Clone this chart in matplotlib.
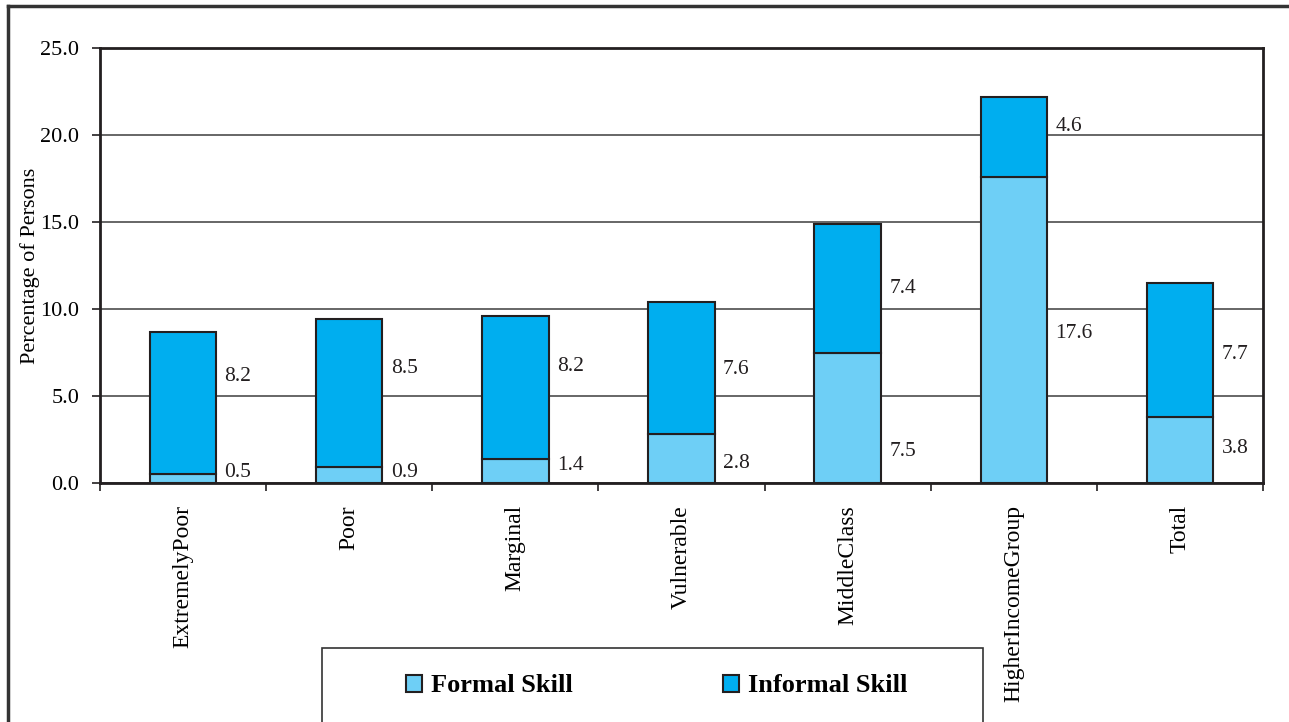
import matplotlib.pyplot as plt
import numpy as np
from matplotlib.lines import Line2D
from matplotlib.patches import Rectangle

plt.rcParams["font.family"] = ["Liberation Serif", "DejaVu Serif"]

categories = ["ExtremelyPoor", "Poor", "Marginal", "Vulnerable",
              "MiddleClass", "HigherIncomeGroup", "Total"]
formal = [0.5, 0.9, 1.4, 2.8, 7.5, 17.6, 3.8]
informal = [8.2, 8.5, 8.2, 7.6, 7.4, 4.6, 7.7]

# where the value labels sit (data units), as in the source chart
formal_label_y = [0.6, 0.6, 1.0, 1.1, 1.8, 8.6, 2.0]
informal_label_y = [6.1, 6.6, 6.7, 6.5, 11.2, 20.5, 7.4]

C_FORMAL = "#6ECFF6"
C_INFORMAL = "#00AEEF"
EDGE = "#231F20"

W, H = 1289, 722
fig = plt.figure(figsize=(W / 100, H / 100), dpi=100)
ax = fig.add_axes([100 / W, 1 - 483 / H, 1163 / W, 435 / H])

x = np.arange(len(categories))
bw = 0.4
b1 = ax.bar(x, formal, bw, color=C_FORMAL, edgecolor=EDGE, linewidth=1.5,
            label="Formal Skill", zorder=3)
b2 = ax.bar(x, informal, bw, bottom=formal, color=C_INFORMAL, edgecolor=EDGE,
            linewidth=1.5, label="Informal Skill", zorder=3)

for i in range(len(categories)):
    ax.text(x[i] + bw / 2 + 0.05, formal_label_y[i], f"{formal[i]:.1f}",
            va="center", ha="left", fontsize=15.5, color="#231F20")
    ax.text(x[i] + bw / 2 + 0.05, informal_label_y[i], f"{informal[i]:.1f}",
            va="center", ha="left", fontsize=15.5, color="#231F20")

ax.set_xlim(-0.5, len(categories) - 0.5)
ax.set_ylim(0, 25)
ax.set_yticks(np.arange(0, 25.1, 5))
ax.set_yticklabels([f"{v:.1f}" for v in np.arange(0, 25.1, 5)])
ax.yaxis.grid(True, color="#4d4d4d", linewidth=1.2, zorder=0)
ax.set_axisbelow(True)

ax.set_xticks(x)
ax.set_xticklabels(categories, rotation=90, va="top")
ax.set_xticks(np.arange(-0.5, len(categories)), minor=True)
ax.tick_params(axis="x", which="major", length=0, pad=16, labelsize=17)
ax.tick_params(axis="x", which="minor", length=6, width=1.2, color=EDGE)
ax.tick_params(axis="y", length=6, width=1.2, pad=9, labelsize=16, color=EDGE)

for s in ax.spines.values():
    s.set_linewidth(2)
    s.set_color(EDGE)

ax.set_ylabel("Percentage of Persons", fontsize=16, labelpad=0)

# legend in a box at the bottom
fig.patches.append(Rectangle((322 / W, -0.05), (983 - 322) / W, 0.05 + (1 - 648 / H),
                             transform=fig.transFigure, fill=False,
                             edgecolor="#333333", linewidth=1.2))
fig.legend(handles=[b1, b2], loc="center", bbox_to_anchor=(657 / W, 1 - 686 / H),
           ncol=2, frameon=False, prop={"weight": "bold", "size": 19},
           handlelength=0.6, handleheight=0.6, handletextpad=0.35,
           columnspacing=5.7)

# outer frame (top and left edges visible)
fig.lines.append(Line2D([8 / W, 8 / W], [0, 1 - 6 / H], transform=fig.transFigure,
                        color="#333333", linewidth=2.5))
fig.lines.append(Line2D([8 / W, 1], [1 - 6 / H, 1 - 6 / H], transform=fig.transFigure,
                        color="#333333", linewidth=2.5))

fig.savefig("out.png", dpi=100)
